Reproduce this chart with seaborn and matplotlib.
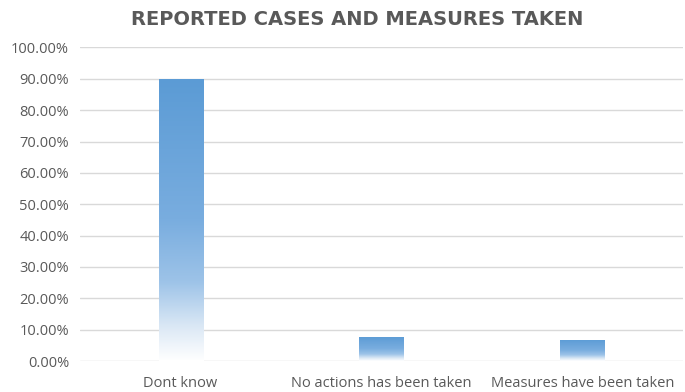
import numpy as np
import pandas as pd
import matplotlib
matplotlib.use("Agg")
import matplotlib.pyplot as plt
import seaborn as sns
from matplotlib.colors import LinearSegmentedColormap
from matplotlib.ticker import FuncFormatter

categories = ["Dont know", "No actions has been taken", "Measures have been taken"]
values = [90.0, 7.7, 6.8]

df = pd.DataFrame({"answer": categories, "pct": values})

sns.set_style("white")
plt.rcParams["font.family"] = ["Open Sans", "DejaVu Sans"]

fig = plt.figure(figsize=(6.85, 3.92), dpi=100)
ax = fig.add_axes([0.117, 0.079, 0.88, 0.80])

sns.barplot(data=df, x="answer", y="pct", color="#5B9BD5", width=0.22, ax=ax, zorder=2)

# gradient fill, strong at top and fading to white at the bottom
cmap = LinearSegmentedColormap.from_list(
    "fade", [(0.0, "#ffffff"), (0.12, "#dbe8f5"), (0.28, "#9dc3e8"),
             (0.5, "#79addf"), (1.0, "#5B9BD5")])
grad = np.linspace(0, 1, 256).reshape(-1, 1)
for bar in ax.patches:
    x0, y0 = bar.get_x(), bar.get_y()
    w, h = bar.get_width(), bar.get_height()
    bar.set_facecolor("none")
    bar.set_edgecolor("none")
    im = ax.imshow(grad, cmap=cmap, aspect="auto", origin="lower",
                   extent=[x0, x0 + w, y0, y0 + h], zorder=2)
    im.set_clip_path(bar)

ax.set_xlim(-0.5, 2.5)
ax.set_ylim(0, 100)
ax.set_yticks(np.arange(0, 101, 10))
ax.yaxis.set_major_formatter(FuncFormatter(lambda v, p: f"{v:.2f}%"))
ax.grid(axis="y", color="#D9D9D9", linewidth=1, zorder=0)
ax.set_axisbelow(True)
for s in ax.spines.values():
    s.set_visible(False)
ax.tick_params(length=0, labelsize=10.5, labelcolor="#595959")
ax.tick_params(axis="x", pad=11)
ax.tick_params(axis="y", pad=8)
ax.set_xlabel("")
ax.set_ylabel("")

fig.suptitle("REPORTED CASES AND MEASURES TAKEN", x=0.522, y=0.975,
             fontsize=14, fontweight="bold", color="#595959",
             family=["Liberation Sans Narrow", "DejaVu Sans"])

fig.savefig("out.png", dpi=100)
